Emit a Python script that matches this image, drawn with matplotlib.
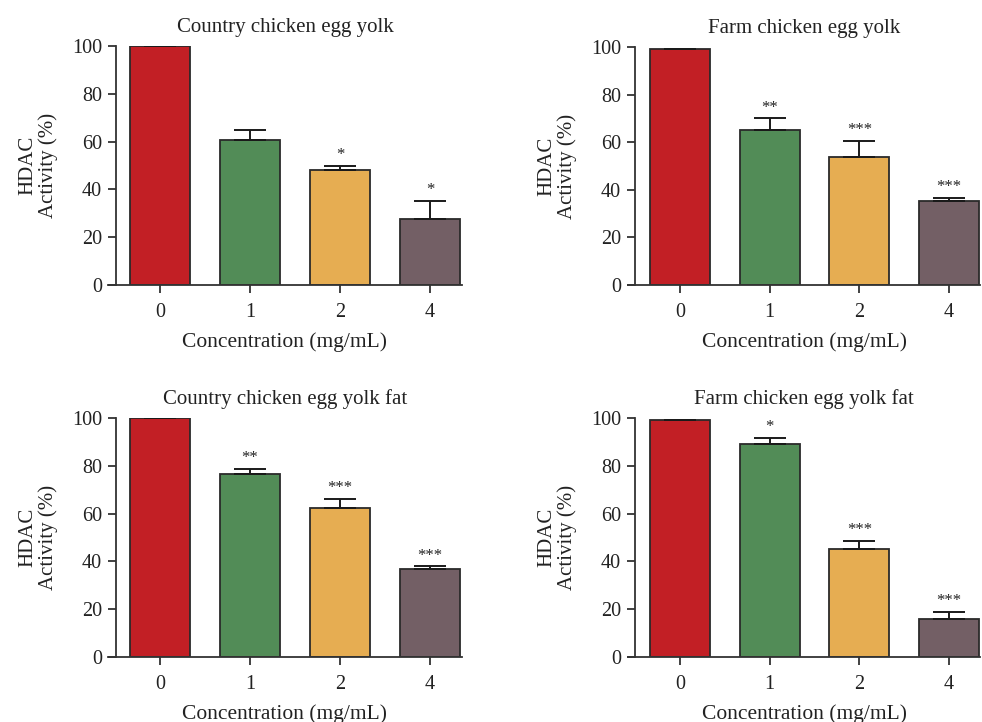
import matplotlib
matplotlib.use("Agg")
import matplotlib.pyplot as plt
import numpy as np

plt.rcParams['font.family'] = ['Liberation Serif', 'DejaVu Serif']

# data
doses = ['0', '1', '2', '4']
bar_colors = ['#C21F25', '#528C57', '#E6AD52', '#735F65']

titles = ['Country chicken egg yolk', 'Farm chicken egg yolk',
          'Country chicken egg yolk fat', 'Farm chicken egg yolk fat']

country_yolk = [100.0, 60.5, 48.0, 27.5]
country_yolk_err = [0.0, 4.5, 2.0, 7.5]
country_yolk_sig = ['', '', '*', '*']

farm_yolk = [99.2, 65.0, 53.8, 35.5]
farm_yolk_err = [0.0, 5.0, 6.7, 1.0]
farm_yolk_sig = ['', '**', '***', '***']

country_fat = [100.0, 76.5, 62.5, 36.7]
country_fat_err = [0.0, 2.3, 3.5, 1.2]
country_fat_sig = ['', '**', '***', '***']

farm_fat = [99.3, 89.0, 45.0, 16.0]
farm_fat_err = [0.0, 2.5, 3.5, 3.0]
farm_fat_sig = ['', '*', '***', '***']

values = [country_yolk, farm_yolk, country_fat, farm_fat]
errors = [country_yolk_err, farm_yolk_err, country_fat_err, farm_fat_err]
signif = [country_yolk_sig, farm_yolk_sig, country_fat_sig, farm_fat_sig]

W, H = 982, 722
fig = plt.figure(figsize=(W / 100, H / 100), dpi=100)

# panel boxes in pixels: left (x-axis start), spine x, first bar centre, spacing, right, y0 px, y100 px
boxes = [
    (108, 116, 160, 90.0, 462, 285, 46),
    (628, 635, 680, 89.7, 980, 285, 47),
    (108, 116, 160, 90.0, 462, 657, 418),
    (628, 635, 680, 89.7, 980, 657, 418),
]

x = np.arange(len(doses))
for i, (lft, spx, c0, sp, rgt, y0, y100) in enumerate(boxes):
    ax = fig.add_axes([lft / W, 1 - y0 / H, (rgt - lft) / W, (y0 - y100) / H])
    ax.set_xlim(-(c0 - lft) / sp, 3 + (rgt - (c0 + 3 * sp)) / sp)
    ax.set_ylim(0, 100)
    ax.bar(x, values[i], width=0.667, color=bar_colors,
           edgecolor='#2a2a2a', linewidth=1.3, zorder=2)
    ax.errorbar(x, values[i], yerr=[np.zeros(4), errors[i]], fmt='none',
                ecolor='#1a1a1a', elinewidth=1.4, capsize=11.5, capthick=1.4,
                zorder=3)
    for xi, v, e, s in zip(x, values[i], errors[i], signif[i]):
        if s:
            ax.text(xi, v + e + 1.2, s, ha='center', va='bottom',
                    fontsize=12, color='#222222')

    ax.spines['top'].set_visible(False)
    ax.spines['right'].set_visible(False)
    ax.spines['left'].set_position(('axes', (spx - lft) / (rgt - lft)))
    for s in ['left', 'bottom']:
        ax.spines[s].set_color('#333333')
        ax.spines[s].set_linewidth(1.3)
    ax.set_xticks(x)
    ax.set_xticklabels(doses)
    ax.set_yticks([0, 20, 40, 60, 80, 100])
    ax.tick_params(direction='out', length=6, width=1.3, color='#333333',
                   labelsize=14.5, labelcolor='#222222', pad=4)
    ax.tick_params(axis='x', pad=7)
    ax.set_xlabel('Concentration (mg/mL)', fontsize=15.5, color='#222222',
                  labelpad=7)
    ax.set_ylabel('HDAC\nActivity (%)', fontsize=15, color='#222222',
                  linespacing=1.1, labelpad=10)
    ax.set_title(titles[i], fontsize=15, color='#222222', pad=10)

fig.savefig('out.png', dpi=100)
